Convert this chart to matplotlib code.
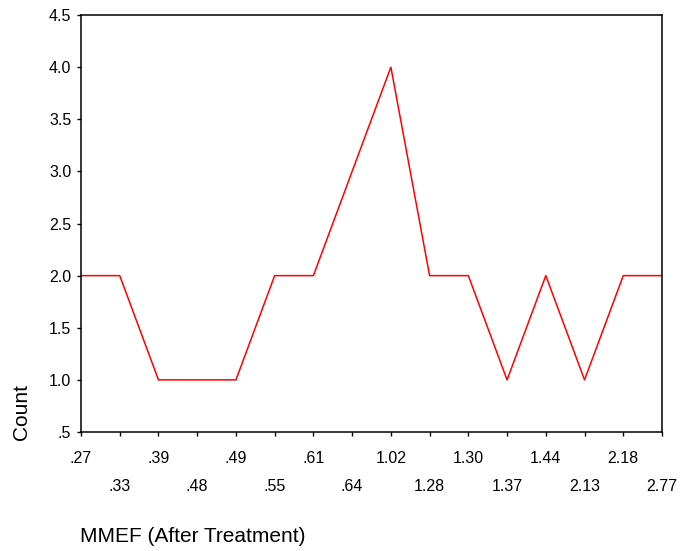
import matplotlib
matplotlib.use("Agg")
import matplotlib.pyplot as plt
import numpy as np

plt.rcParams['font.family'] = ['Liberation Sans', 'DejaVu Sans']

# MMEF values after treatment and how often each occurs
mmef_labels = ['.27', '.33', '.39', '.48', '.49', '.55', '.61', '.64',
               '1.02', '1.28', '1.30', '1.37', '1.44', '2.13', '2.18', '2.77']
counts = [2, 2, 1, 1, 1, 2, 2, 3, 4, 2, 2, 1, 2, 1, 2, 2]
y_ticks = [0.5, 1.0, 1.5, 2.0, 2.5, 3.0, 3.5, 4.0, 4.5]
y_tick_labels = ['.5', '1.0', '1.5', '2.0', '2.5', '3.0', '3.5', '4.0', '4.5']

fig = plt.figure(figsize=(6.8, 5.51), dpi=100)
ax = fig.add_axes([81 / 680, 1 - 432 / 551, (662 - 81) / 680, (432 - 15) / 551])

xpos = np.arange(len(mmef_labels))
ax.plot(xpos, counts, color='#ff0000', lw=1.1)

ax.set_xlim(0, len(mmef_labels) - 1)
ax.set_ylim(0.5, 4.5)
ax.set_yticks(y_ticks)
ax.set_yticklabels(y_tick_labels)
ax.set_xticks(xpos)
ax.set_xticklabels(mmef_labels)

for sp in ax.spines.values():
    sp.set_linewidth(1.1)
ax.tick_params(direction='out', length=3, width=1, labelsize=11.5, colors='black')
ax.tick_params(axis='y', pad=4)

# stagger the category labels over two rows
for i, t in enumerate(ax.xaxis.get_major_ticks()):
    t.set_pad(10.5 if i % 2 == 0 else 30.5)

fig.text(22 / 680, 1 - 412 / 551, 'Count', rotation=90, fontsize=15,
         ha='center', va='center')
fig.text(80 / 680, 1 - 536 / 551, 'MMEF (After Treatment)', fontsize=15,
         ha='left', va='center')

fig.savefig('out.png', dpi=100)
